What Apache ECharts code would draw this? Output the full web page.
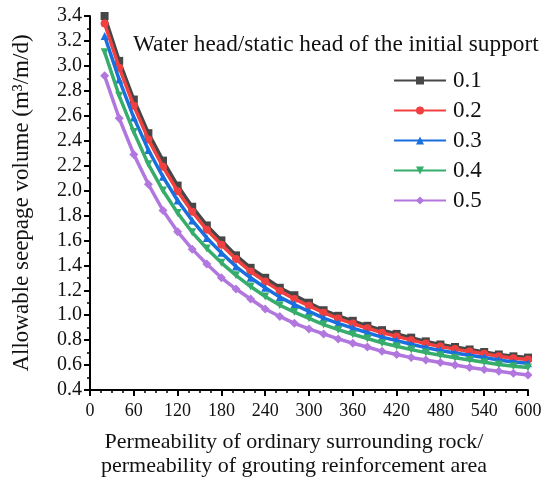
<!DOCTYPE html>
<html>
<head>
<meta charset="utf-8">
<script src="https://cdn.jsdelivr.net/npm/echarts@6/dist/echarts.min.js"></script>
<style>html,body{margin:0;padding:0;background:#fff;}#chart{width:551px;height:477px;}</style>
</head>
<body>
<div id="chart"></div>
<script>
var xValues = [20,40,60,80,100,120,140,160,180,200,220,240,260,280,300,320,340,360,380,400,420,440,460,480,500,520,540,560,580,600];
var seriesNames = ['0.1','0.2','0.3','0.4','0.5'];
var s01 = [3.40,3.04,2.73,2.46,2.24,2.04,1.87,1.72,1.60,1.48,1.38,1.30,1.22,1.16,1.10,1.04,0.995,0.955,0.915,0.88,0.85,0.82,0.79,0.765,0.745,0.725,0.705,0.685,0.67,0.66];
var s02 = [3.34,2.985,2.68,2.41,2.19,1.995,1.83,1.685,1.565,1.45,1.35,1.27,1.195,1.13,1.075,1.02,0.973,0.933,0.895,0.86,0.83,0.80,0.772,0.748,0.728,0.708,0.69,0.67,0.655,0.645];
var s03 = [3.24,2.89,2.585,2.325,2.11,1.92,1.76,1.62,1.50,1.39,1.30,1.22,1.145,1.085,1.03,0.977,0.934,0.896,0.859,0.824,0.796,0.767,0.74,0.717,0.697,0.678,0.66,0.64,0.625,0.615];
var s04 = [3.11,2.76,2.47,2.21,2.00,1.82,1.665,1.535,1.42,1.32,1.23,1.15,1.08,1.025,0.975,0.925,0.884,0.847,0.813,0.778,0.751,0.724,0.70,0.678,0.658,0.64,0.622,0.605,0.59,0.58];
var s05 = [2.92,2.58,2.29,2.05,1.84,1.67,1.53,1.41,1.30,1.21,1.13,1.05,0.99,0.935,0.89,0.85,0.81,0.775,0.745,0.71,0.685,0.66,0.64,0.62,0.60,0.58,0.565,0.55,0.535,0.52];
var yTickLabels = ['0.4','0.6','0.8','1.0','1.2','1.4','1.6','1.8','2.0','2.2','2.4','2.6','2.8','3.0','3.2','3.4'];
var xTickLabels = ['0','60','120','180','240','300','360','420','480','540','600'];
var legendTitle = 'Water head/static head of the initial support';
var xTitle = 'Permeability of ordinary surrounding rock/\npermeability of grouting reinforcement area';
var yTitle = 'Allowable seepage volume (m\u00B3/m/d)';

var colors = ['#474747','#F14040','#1A6FDF','#37AD6B','#B177DE'];
var symbols = ['rect','circle','triangle','triangle','diamond'];
var rotations = [0,0,0,180,0];
var allData = [s01,s02,s03,s04,s05];

function pairs(arr){ return xValues.map(function(x,i){ return [x, arr[i]]; }); }

var FONT = 'Liberation Serif';
var chart = echarts.init(document.getElementById('chart'), null, {renderer:'canvas'});
var series = seriesNames.map(function(n,i){
  return {
    name: n, type: 'line', data: pairs(allData[i]),
    symbol: symbols[i], symbolRotate: rotations[i], symbolSize: i===4 ? 9 : 8,
    showAllSymbol: true,
    lineStyle: {color: colors[i], width: 3.5},
    itemStyle: {color: colors[i]},
    emphasis: {disabled: true},
    animation: false, z: 2 + i
  };
});
chart.setOption({
  animation: false,
  color: colors,
  textStyle: {fontFamily: FONT},
  grid: {left: 90, right: 23, top: 16, bottom: 87, containLabel: false, outerBoundsMode: 'none'},
  title: {
    text: legendTitle, left: 133, top: 33, padding: 0,
    textStyle: {fontFamily: FONT, fontSize: 23.3, fontWeight: 'normal', color: '#111'}
  },
  legend: {
    orient: 'vertical', left: 393, top: 69, itemGap: 7, padding: 0,
    itemWidth: 52, itemHeight: 10,
    textStyle: {fontFamily: FONT, fontSize: 23, color: '#111', padding: [0,0,0,2]},
    data: seriesNames
  },
  xAxis: {
    type: 'value', min: 0, max: 600, interval: 60,
    name: xTitle, nameLocation: 'middle', nameGap: 40,
    nameTextStyle: {fontFamily: FONT, fontSize: 22, color: '#111', lineHeight: 24, padding: [0,30,0,0]},
    axisLine: {show: true, onZero: false, lineStyle: {color: '#000', width: 2}},
    axisTick: {show: true, inside: false, length: 6, lineStyle: {color: '#000', width: 2}},
    minorTick: {show: true, splitNumber: 4, length: 3, lineStyle: {color: '#000', width: 1.5}},
    axisLabel: {margin: 12, fontFamily: FONT, fontSize: 18, color: '#111',
      formatter: function(v){ var i = xTickLabels.indexOf(String(v)); return i>=0 ? xTickLabels[i] : ''; }},
    splitLine: {show: false}
  },
  yAxis: {
    type: 'value', min: 0.4, max: 3.4, interval: 0.2,
    name: yTitle, nameLocation: 'middle', nameGap: 57, nameRotate: 90,
    nameTextStyle: {fontFamily: FONT, fontSize: 23, color: '#111'},
    axisLine: {show: true, onZero: false, lineStyle: {color: '#000', width: 2}},
    axisTick: {show: true, inside: false, length: 6, lineStyle: {color: '#000', width: 2}},
    minorTick: {show: true, splitNumber: 2, length: 3, lineStyle: {color: '#000', width: 1.5}},
    axisLabel: {margin: 8, fontFamily: FONT, fontSize: 20, color: '#111',
      formatter: function(v){ var s = v.toFixed(1); return yTickLabels.indexOf(s)>=0 ? s : ''; }},
    splitLine: {show: false}
  },
  series: series
});
</script>
</body>
</html>
